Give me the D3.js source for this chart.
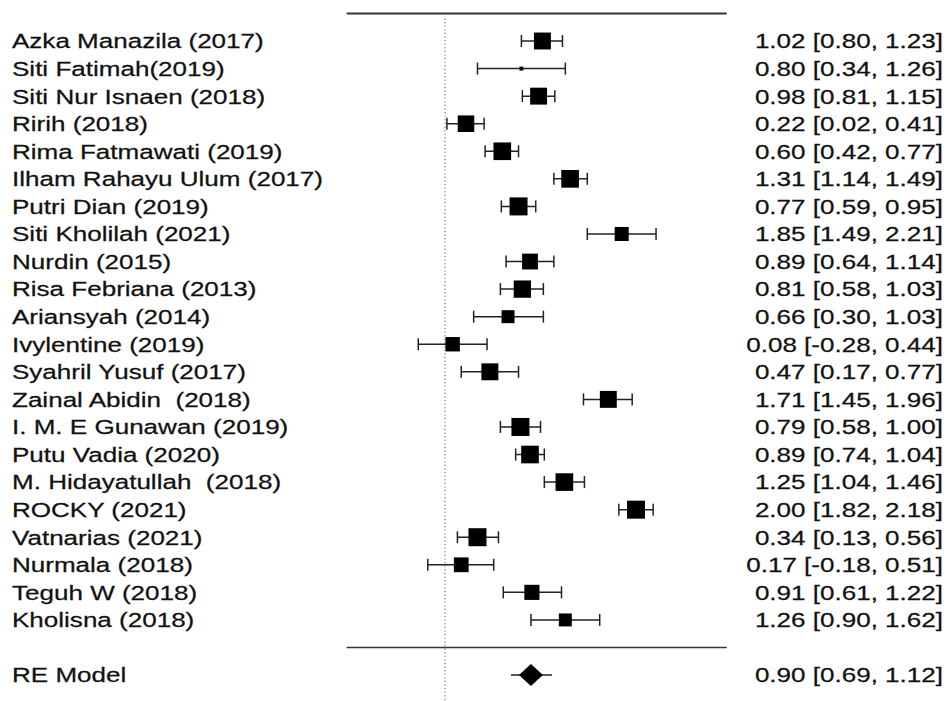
<!DOCTYPE html>
<html>
<head>
<meta charset="utf-8">
<script src="https://cdn.jsdelivr.net/npm/d3@7"></script>
<style>
  body { margin: 0; background: #fff; }
  text { font-family: "Liberation Sans", Arial, sans-serif; fill: #111; stroke: #111; stroke-width: 0.25; white-space: pre; }
</style>
</head>
<body>
<svg id="chart"></svg>
<script>
// study data
const studies = [
    "Azka Manazila (2017)", "Siti Fatimah(2019)", "Siti Nur Isnaen (2018)",
    "Ririh (2018)", "Rima Fatmawati (2019)", "Ilham Rahayu Ulum (2017)",
    "Putri Dian (2019)", "Siti Kholilah (2021)", "Nurdin (2015)",
    "Risa Febriana (2013)", "Ariansyah (2014)", "Ivylentine (2019)",
    "Syahril Yusuf (2017)", "Zainal Abidin  (2018)", "I. M. E Gunawan (2019)",
    "Putu Vadia (2020)", "M. Hidayatullah  (2018)", "ROCKY (2021)",
    "Vatnarias (2021)", "Nurmala (2018)", "Teguh W (2018)", "Kholisna (2018)"
];
const estimates = [1.02, 0.80, 0.98, 0.22, 0.60, 1.31, 0.77, 1.85, 0.89, 0.81, 0.66,
    0.08, 0.47, 1.71, 0.79, 0.89, 1.25, 2.00, 0.34, 0.17, 0.91, 1.26];
const lower = [0.80, 0.34, 0.81, 0.02, 0.42, 1.14, 0.59, 1.49, 0.64, 0.58, 0.30,
    -0.28, 0.17, 1.45, 0.58, 0.74, 1.04, 1.82, 0.13, -0.18, 0.61, 0.90];
const upper = [1.23, 1.26, 1.15, 0.41, 0.77, 1.49, 0.95, 2.21, 1.14, 1.03, 1.03,
    0.44, 0.77, 1.96, 1.00, 1.04, 1.46, 2.18, 0.56, 0.51, 1.22, 1.62];
// relative weights -> square size
const weights = [4.7, 1.1, 4.7, 4.6, 4.9, 4.9, 5.0, 3.9, 4.4, 4.8, 3.6,
    4.0, 4.7, 4.7, 5.0, 4.9, 4.9, 5.0, 5.0, 4.1, 4.2, 3.6];
const pooledLabel = "RE Model";
const pooledValues = [0.90, 0.69, 1.12];   // est, lb, ub
const plotLimits = [-1.03, 2.95];

const W = 947, H = 701;
const svg = d3.select("#chart").attr("width", W).attr("height", H);

const x = d3.scaleLinear().domain([0, 2]).range([445, 636]);
const y = d3.scaleLinear().domain([0, 22]).range([41, 647.5]);
const size = d3.scaleLinear().domain([0, d3.max(weights)]).range([0, 18]);

const loc = d3.formatLocale({decimal: ".", thousands: ",", grouping: [3], currency: ["", ""], minus: "-"});
const f2 = loc.format(".2f");
const annot = (e, l, u) => `${f2(e)} [${f2(l)}, ${f2(u)}]`;

const rows = studies.map((s, i) => ({
    label: s, est: estimates[i], lb: lower[i], ub: upper[i], w: weights[i], i
}));

const stretch = 1.27, fontSize = 20.5;

// reference line at zero
svg.append("line")
    .attr("x1", x(0)).attr("x2", x(0))
    .attr("y1", y(-1) + 5).attr("y2", H)
    .attr("stroke", "#777").attr("stroke-width", 1.2)
    .attr("stroke-dasharray", "1.2,2.4");

// horizontal rules
svg.append("line")
    .attr("x1", x(plotLimits[0])).attr("x2", x(plotLimits[1]))
    .attr("y1", y(-1)).attr("y2", y(-1))
    .attr("stroke", "#333").attr("stroke-width", 2);
svg.append("line")
    .attr("x1", x(plotLimits[0])).attr("x2", x(plotLimits[1]))
    .attr("y1", y(22)).attr("y2", y(22))
    .attr("stroke", "#333").attr("stroke-width", 1.5);

// CI whiskers
const g = svg.append("g").attr("class", "studies");
const capH = 6;
const row = g.selectAll(".row").data(rows).join("g").attr("class", "row");
row.append("line")
    .attr("x1", d => x(d.lb)).attr("x2", d => x(d.ub))
    .attr("y1", d => y(d.i)).attr("y2", d => y(d.i))
    .attr("stroke", "#222").attr("stroke-width", 1.5);
row.append("line")
    .attr("x1", d => x(d.lb)).attr("x2", d => x(d.lb))
    .attr("y1", d => y(d.i) - capH).attr("y2", d => y(d.i) + capH)
    .attr("stroke", "#222").attr("stroke-width", 1.5);
row.append("line")
    .attr("x1", d => x(d.ub)).attr("x2", d => x(d.ub))
    .attr("y1", d => y(d.i) - capH).attr("y2", d => y(d.i) + capH)
    .attr("stroke", "#222").attr("stroke-width", 1.5);
row.append("rect")
    .attr("x", d => x(d.est) - size(d.w) / 2)
    .attr("y", d => y(d.i) - size(d.w) / 2)
    .attr("width", d => size(d.w)).attr("height", d => size(d.w))
    .attr("fill", "#000");

// labels
row.append("text")
    .attr("transform", d => `translate(12,${y(d.i)}) scale(${stretch},1)`)
    .attr("dy", "0.36em")
    .style("font-size", fontSize + "px")
    .text(d => d.label);
row.append("text")
    .attr("transform", d => `translate(943,${y(d.i)}) scale(${stretch},1)`)
    .attr("dy", "0.36em")
    .attr("text-anchor", "end")
    .style("font-size", fontSize + "px")
    .text(d => annot(d.est, d.lb, d.ub));

// pooled estimate
const [pe, plb, pub] = pooledValues;
const py = y(23);
svg.append("line")
    .attr("x1", x(plb)).attr("x2", x(pub))
    .attr("y1", py).attr("y2", py)
    .attr("stroke", "#222").attr("stroke-width", 1.5);
const dh = 11, dw = 12;
svg.append("path")
    .attr("d", `M${x(pe) - dw},${py}L${x(pe)},${py - dh}L${x(pe) + dw},${py}L${x(pe)},${py + dh}Z`)
    .attr("fill", "#000");
svg.append("text")
    .attr("transform", `translate(12,${py}) scale(${stretch},1)`)
    .attr("dy", "0.36em")
    .style("font-size", fontSize + "px")
    .text(pooledLabel);
svg.append("text")
    .attr("transform", `translate(943,${py}) scale(${stretch},1)`)
    .attr("dy", "0.36em")
    .attr("text-anchor", "end")
    .style("font-size", fontSize + "px")
    .text(annot(pe, plb, pub));
</script>
</body>
</html>
